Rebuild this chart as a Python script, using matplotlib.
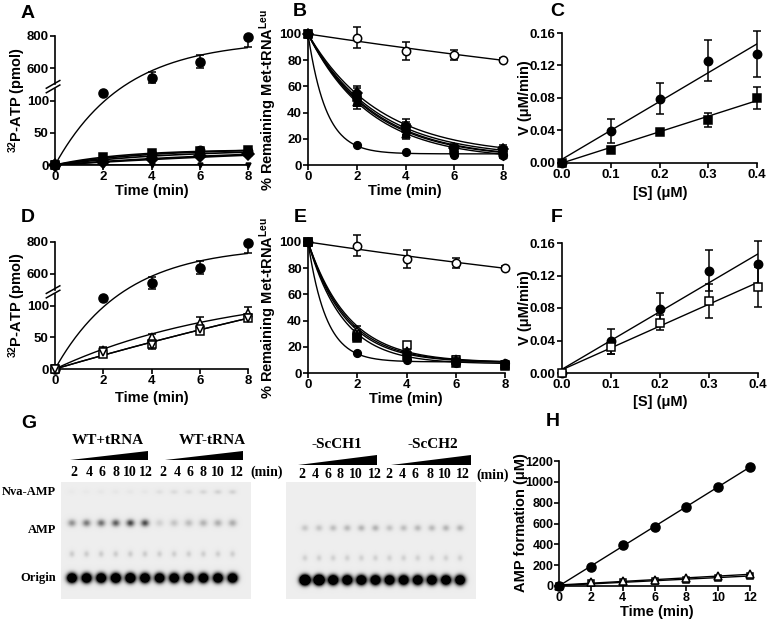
import matplotlib
matplotlib.use("Agg")
import matplotlib.pyplot as plt
import numpy as np
from matplotlib.patches import Polygon
from matplotlib.ticker import FormatStrFormatter

W, H = 768, 622

# ---- A / D : 32P-ATP (pmol) ----
TIME_AD = [0, 2, 4, 6, 8]
WT_ATP = [0, 112, 539, 639, 794]
WT_ATP_ERR_LO = [0, 0, 32, 40, 62]
WT_ATP_ERR_HI = [0, 0, 38, 42, 0]
WT_FIT_TOP, WT_FIT_K = 0.969, 0.35   # fit drawn on the broken axis
A_MUT_ATP = [
    [0, 13, 19, 21, 23],
    [0, 10, 17, 24, 22],
    [0, 8, 14, 18, 20],
    [0, 5, 10, 14, 17],
    [0, 3, 8, 12, 15],
    [0, 0, 0, 0, 0],
]
A_MUT_YMAX = [24, 26, 25, 30, 40, 0]
A_MUT_K = [0.35, 0.25, 0.2, 0.1, 0.06, 0.1]
D_MUT_ATP = [
    [0, 30, 50, 72, 88],
    [0, 24, 40, 60, 80],
    [0, 27, 38, 63, 80],
]
D_MUT_ERR = [[0, 5, 5, 10, 10], [0, 3, 4, 4, 5], [0, 3, 7, 4, 5]]
D_MUT_YMAX = [130, 400, 380]
D_MUT_K = [0.138, 0.0279, 0.0295]

# ---- B / E : % remaining Met-tRNALeu ----
TIME_BE = [0, 2, 4, 6, 8]
CTRL_REMAIN = [100, 97, 87, 84, 80]
CTRL_REMAIN_ERR = [0, 8, 7, 4, 1.5]
CTRL_K = 0.028
WT_REMAIN = [100, 15, 10, 8, 8]
WT_PLATEAU, WT_K = 8.5, 1.35
B_MUT_REMAIN = [
    [100, 52, 28, 12, 11],
    [100, 48, 24, 11, 9],
    [100, 50, 26, 10, 8],
    [100, 55, 30, 13, 12],
    [100, 49, 25, 9, 7],
]
B_MUT_ERR = [[0, 7, 5, 3, 3], [0, 5, 4, 2, 2], [0, 4, 3, 2, 2], [0, 5, 5, 3, 3], [0, 4, 3, 2, 2]]
B_MUT_PLATEAU = [6, 5, 5, 7, 4]
B_MUT_K = [0.36, 0.38, 0.37, 0.34, 0.39]
E_MUT_REMAIN = [
    [100, 28, 21, 10, 6],
    [100, 32, 17, 10, 7],
    [100, 30, 15, 11, 8],
    [100, 27, 13, 8, 5],
]
E_MUT_ERR = [[0, 3, 3, 2, 1], [0, 4, 3, 2, 1], [0, 3, 2, 2, 1], [0, 2, 2, 1, 1]]
E_MUT_PLATEAU = [8, 8, 8, 7]
E_MUT_K = [0.66, 0.6, 0.63, 0.7]

# ---- C / F : V (uM/min) vs [S] ----
CONC = [0, 0.1, 0.2, 0.3, 0.4]
WT_V = [0, 0.039, 0.079, 0.126, 0.134]
WT_V_ERR = [0, 0.015, 0.019, 0.025, 0.028]
C_MUT_V = [0, 0.016, 0.038, 0.053, 0.080]
C_MUT_V_ERR = [0, 0.002, 0.003, 0.009, 0.013]
F_MUT_V = [0, 0.032, 0.062, 0.089, 0.106]
F_MUT_V_ERR = [0, 0.008, 0.009, 0.021, 0.025]

# ---- H : AMP formation ----
TIME_H = [0, 2, 4, 6, 8, 10, 12]
H_WT = [0, 185, 395, 570, 755, 950, 1145]
H_TRI = [0, 35, 48, 62, 78, 92, 112]
H_SQ = [0, 25, 38, 50, 62, 80, 98]

# ---- G : TLC spot darkness per lane ----
LANE_TIMES = [2, 4, 6, 8, 10, 12]
G_GROUPS = ["WT+tRNA", "WT-tRNA", "-ScCH1", "-ScCH2"]
G1_NVA = [0.02, 0.02, 0.03, 0.03, 0.03, 0.03, 0.06, 0.08, 0.08, 0.1, 0.12, 0.12]
G1_AMP = [0.38, 0.48, 0.52, 0.6, 0.7, 0.68, 0.12, 0.17, 0.2, 0.24, 0.26, 0.27]
G1_BAND3 = [0.14, 0.14, 0.14, 0.14, 0.14, 0.14, 0.13, 0.13, 0.13, 0.13, 0.13, 0.13]
G1_ORIGIN = [2.4, 2.4, 2.4, 2.5, 2.6, 2.4, 2.3, 2.3, 2.3, 2.3, 2.3, 2.3]
G2_AMP = [0.16, 0.17, 0.2, 0.22, 0.24, 0.25, 0.18, 0.2, 0.22, 0.22, 0.24, 0.24]
G2_BAND3 = [0.12, 0.12, 0.12, 0.12, 0.12, 0.12, 0.12, 0.12, 0.12, 0.12, 0.12, 0.12]
G2_ORIGIN = [3.4, 3.4, 2.6, 2.5, 2.5, 2.5, 2.4, 2.4, 2.4, 2.4, 2.4, 2.4]

# broken y axis for A / D (data -> axis fraction)
BRK_Y = [-1000, 0, 118, 500, 800, 3000]
BRK_F = [-5, 0, 0.59, 0.625, 1.0, 3.75]

plt.rcParams["font.family"] = ["Liberation Sans", "DejaVu Sans"]
plt.rcParams["font.weight"] = "bold"
plt.rcParams["axes.labelweight"] = "bold"
plt.rcParams["mathtext.fontset"] = "custom"
plt.rcParams["mathtext.rm"] = "Liberation Sans:bold"
plt.rcParams["mathtext.bf"] = "Liberation Sans:bold"
plt.rcParams["mathtext.it"] = "Liberation Sans:bold:italic"

fig = plt.figure(figsize=(W / 100, H / 100), dpi=100)
ov = fig.add_axes([0, 0, 1, 1])
ov.set_xlim(0, W)
ov.set_ylim(H, 0)
ov.axis("off")

TICK_FS = 9.5
LABEL_FS = 10.5
SERIF = ["Liberation Serif", "DejaVu Serif"]


def px_axes(x0, y0, x1, y1):
    return fig.add_axes([x0 / W, 1 - y1 / H, (x1 - x0) / W, (y1 - y0) / H])


def style(ax, size=TICK_FS, pad=1):
    for s in ("top", "right"):
        ax.spines[s].set_visible(False)
    for s in ("left", "bottom"):
        ax.spines[s].set_linewidth(1.2)
    ax.tick_params(direction="out", length=3.5, width=1.2, labelsize=size, pad=pad)
    for lab in ax.get_xticklabels() + ax.get_yticklabels():
        lab.set_fontweight("bold")


def points(ax, x, y, marker, filled=True, ms=5.5, err=None, err_hi=None):
    x = np.asarray(x, float)
    y = np.asarray(y, float)
    if err is not None:
        lo = np.asarray(err, float)
        hi = lo if err_hi is None else np.asarray(err_hi, float)
        m = (lo > 0) | (hi > 0)
        ax.errorbar(x[m], y[m], yerr=[lo[m], hi[m]], fmt="none", ecolor="k",
                    elinewidth=1.1, capsize=2.8, capthick=1.1, clip_on=False, zorder=3)
    ax.plot(x, y, ls="none", marker=marker, ms=ms, mfc="k" if filled else "w",
            mec="k", mew=1.1, clip_on=False, zorder=4)


def fig_text(x, y, s, **kw):
    kw.setdefault("ha", "center")
    kw.setdefault("va", "center")
    kw.setdefault("fontweight", "bold")
    ov.text(x, y, s, **kw)


def broken_atp_axes(x0, y0, x1, y1):
    ax = px_axes(x0, y0, x1, y1)
    ax.set_yscale("function", functions=(lambda v: np.interp(v, BRK_Y, BRK_F),
                                         lambda f: np.interp(f, BRK_F, BRK_Y)))
    ax.set_xlim(0, 8)
    ax.set_ylim(0, 800)
    ax.set_xticks([0, 2, 4, 6, 8])
    ax.set_yticks([0, 50, 100, 600, 800])
    style(ax)
    ax.spines["left"].set_bounds(0, 118)
    ax.plot([0, 0], [500, 800], color="k", lw=1.2, transform=ax.get_yaxis_transform(),
            clip_on=False)
    for f in (BRK_F[2], BRK_F[3]):
        ax.plot([-0.045, 0.025], [f - 0.03, f + 0.03], color="k", lw=1.1,
                transform=ax.transAxes, clip_on=False)
    t = np.linspace(0, 8, 200)
    frac = WT_FIT_TOP * (1 - np.exp(-WT_FIT_K * t))
    ax.plot(t, np.interp(frac, BRK_F, BRK_Y), color="k", lw=1.0)
    points(ax, TIME_AD, WT_ATP, "o", ms=6.5, err=WT_ATP_ERR_LO, err_hi=WT_ATP_ERR_HI)
    return ax


tf = np.linspace(0, 8, 200)

# ---- A ----
axA = broken_atp_axes(55, 36, 248, 165)
for vals, ymax, k, mk in zip(A_MUT_ATP, A_MUT_YMAX, A_MUT_K, ["s", "o", "^", "D", "v", "v"]):
    axA.plot(tf, ymax * (1 - np.exp(-k * tf)), color="k", lw=1.2)
    points(axA, TIME_AD, vals, mk, ms=6 if ymax else 3.5)

# ---- D ----
axD = broken_atp_axes(55, 242, 248, 369)
for vals, err, ymax, k, mk in zip(D_MUT_ATP, D_MUT_ERR, D_MUT_YMAX, D_MUT_K, ["^", "s", "v"]):
    axD.plot(tf, ymax * (1 - np.exp(-k * tf)), color="k", lw=1.0)
    points(axD, TIME_AD, vals, mk, filled=False, ms=5.5, err=err)


def remain_axes(x0, y0, x1, y1):
    ax = px_axes(x0, y0, x1, y1)
    ax.set_xlim(0, 8)
    ax.set_ylim(0, 100)
    ax.set_xticks([0, 2, 4, 6, 8])
    ax.set_yticks([0, 20, 40, 60, 80, 100])
    style(ax)
    ax.plot(tf, 100 * np.exp(-CTRL_K * tf), color="k", lw=1.0)
    points(ax, TIME_BE, CTRL_REMAIN, "o", filled=False, ms=6, err=CTRL_REMAIN_ERR)
    ax.plot(tf, WT_PLATEAU + (100 - WT_PLATEAU) * np.exp(-WT_K * tf), color="k", lw=1.0)
    points(ax, TIME_BE, WT_REMAIN, "o", ms=5.5)
    return ax


# ---- B ----
axB = remain_axes(308, 34, 503, 165)
for vals, err, pl, k, mk in zip(B_MUT_REMAIN, B_MUT_ERR, B_MUT_PLATEAU, B_MUT_K,
                                ["s", "^", "v", "D", "h"]):
    axB.plot(tf, pl + (100 - pl) * np.exp(-k * tf), color="k", lw=1.0)
    points(axB, TIME_BE, vals, mk, ms=5.5, err=err)

# ---- E ----
axE = remain_axes(308, 242, 505, 373)
for vals, err, pl, k, mk, fill in zip(E_MUT_REMAIN, E_MUT_ERR, E_MUT_PLATEAU, E_MUT_K,
                                      ["s", "^", "*", "s"], [False, False, True, True]):
    axE.plot(tf, pl + (100 - pl) * np.exp(-k * tf), color="k", lw=1.0)
    points(axE, TIME_BE, vals, mk, filled=fill, ms=6 if mk == "*" else 5.5, err=err)


def rate_axes(x0, y0, x1, y1):
    ax = px_axes(x0, y0, x1, y1)
    ax.set_xlim(0, 0.4)
    ax.set_ylim(0, 0.16)
    ax.set_xticks([0, 0.1, 0.2, 0.3, 0.4])
    ax.set_yticks([0, 0.04, 0.08, 0.12, 0.16])
    ax.xaxis.set_major_formatter(FormatStrFormatter("%.1f"))
    ax.yaxis.set_major_formatter(FormatStrFormatter("%.2f"))
    style(ax)
    return ax


def linfit(ax, x, y, x_end):
    slope, icpt = np.polyfit(x, y, 1)
    xs = np.array([0, x_end])
    ax.plot(xs, np.maximum(icpt + slope * xs, 0), color="k", lw=1.0)


# ---- C ----
axC = rate_axes(562, 33, 757, 163)
linfit(axC, CONC, WT_V, 0.4)
linfit(axC, CONC, C_MUT_V, 0.4)
points(axC, CONC, WT_V, "o", ms=6, err=WT_V_ERR)
points(axC, CONC, C_MUT_V, "s", ms=5.5, err=C_MUT_V_ERR)

# ---- F ----
axF = rate_axes(562, 243, 758, 373)
linfit(axF, CONC, WT_V, 0.4)
linfit(axF, CONC, F_MUT_V, 0.4)
points(axF, CONC, WT_V, "o", ms=6, err=WT_V_ERR)
points(axF, CONC, F_MUT_V, "s", filled=False, ms=6, err=F_MUT_V_ERR)

# ---- H ----
axH = px_axes(559, 461, 750, 586)
axH.set_xlim(0, 12)
axH.set_ylim(0, 1200)
axH.set_xticks([0, 2, 4, 6, 8, 10, 12])
axH.set_yticks([0, 200, 400, 600, 800, 1000, 1200])
style(axH, size=9, pad=0.5)
for vals in (H_WT, H_TRI, H_SQ):
    linfit(axH, TIME_H, vals, 12)
points(axH, TIME_H, H_SQ, "s", filled=False, ms=5)
points(axH, TIME_H, H_TRI, "^", filled=False, ms=5.5)
points(axH, TIME_H, H_WT, "o", ms=6.5)


# ---- G : TLC image ----
def gel_image(width, height, lane0, pitch, rows):
    yy, xx = np.mgrid[0:height, 0:width] + 0.5
    dark = np.zeros((height, width))
    for row_y, amounts, sx, sy in rows:
        for i, a in enumerate(amounts):
            lx = lane0 + pitch * i
            dark += a * np.exp(-((xx - lx) ** 2 / (2 * sx ** 2) + (yy - row_y) ** 2 / (2 * sy ** 2)))
    return 0.93 * (1 - np.clip(dark, 0, 1))


gel1 = gel_image(190, 117, 11, 14.6, [(10, G1_NVA, 2.6, 1.6), (41, G1_AMP, 2.9, 2.5),
                                     (72, G1_BAND3, 1.9, 2.2), (96, G1_ORIGIN, 3.3, 3.2)])
gel2 = gel_image(190, 117, 19, 14.1, [(46, G2_AMP, 2.5, 2.2), (76, G2_BAND3, 1.9, 2.2),
                                     (98, G2_ORIGIN, 3.3, 3.2)])
for (x0, x1), img in (((61, 251), gel1), ((286, 476), gel2)):
    axg = px_axes(x0, 482, x1, 599)
    axg.imshow(img, cmap="gray", vmin=0, vmax=1, aspect="auto", interpolation="bilinear")
    axg.axis("off")

label_x1 = [74, 89, 102, 116, 130, 146, 163, 177, 190, 203, 218, 237]
label_x2 = [302, 315, 328, 340, 356, 375, 389, 402, 415, 430, 445, 463]
for xs, ylab in ((label_x1, 472), (label_x2, 475)):
    for i, lx in enumerate(xs):
        fig_text(lx, ylab, str(LANE_TIMES[i % 6]), fontsize=10, family=SERIF)
fig_text(267, 472, "(min)", fontsize=10, family=SERIF)
fig_text(493, 475, "(min)", fontsize=10, family=SERIF)

group_pos = [(108, 440), (212, 440), (337, 445), (433, 445)]
for name, (gx, gy) in zip(G_GROUPS, group_pos):
    fig_text(gx, gy, name, fontsize=11, family=SERIF)
for xa, xb, yb, yt in ((70, 148, 460, 451), (165, 243, 460, 451),
                       (298, 377, 465, 455), (391, 471, 465, 455)):
    ov.add_patch(Polygon([(xa, yb), (xb, yb), (xb, yt)], closed=True, fc="k", ec="none"))
for name, yy in (("Nva-AMP", 492), ("AMP", 530), ("Origin", 578)):
    fig_text(56, yy, name, fontsize=9, family=SERIF, ha="right")

# ---- figure texts ----
for letter, (lx, ly) in zip("ABCDEFGH", [(28, 14), (300, 12), (557, 12), (28, 217),
                                        (300, 217), (557, 217), (29, 423), (553, 421)]):
    fig_text(lx, ly, letter, fontsize=14)

for yc in (100, 305):
    fig_text(17, yc, "$^{32}$P-ATP (pmol)", fontsize=LABEL_FS, rotation=90)
for yc in (100, 308):
    fig_text(268, yc, r"% Remaining Met-tRNA$^{\mathrm{Leu}}$", fontsize=LABEL_FS, rotation=90)
for yc in (98, 308):
    fig_text(525, yc, "V (μM/min)", fontsize=LABEL_FS, rotation=90)
fig_text(521, 523, "AMP formation (μM)", fontsize=LABEL_FS, rotation=90)

fig_text(152, 191, "Time (min)", fontsize=LABEL_FS)
fig_text(405, 191, "Time (min)", fontsize=LABEL_FS)
fig_text(660, 193, "[S] (μM)", fontsize=LABEL_FS)
fig_text(152, 398, "Time (min)", fontsize=LABEL_FS)
fig_text(406, 399, "Time (min)", fontsize=LABEL_FS)
fig_text(660, 402, "[S] (μM)", fontsize=LABEL_FS)
fig_text(657, 612, "Time (min)", fontsize=LABEL_FS)

fig.savefig("out.png", dpi=100)
